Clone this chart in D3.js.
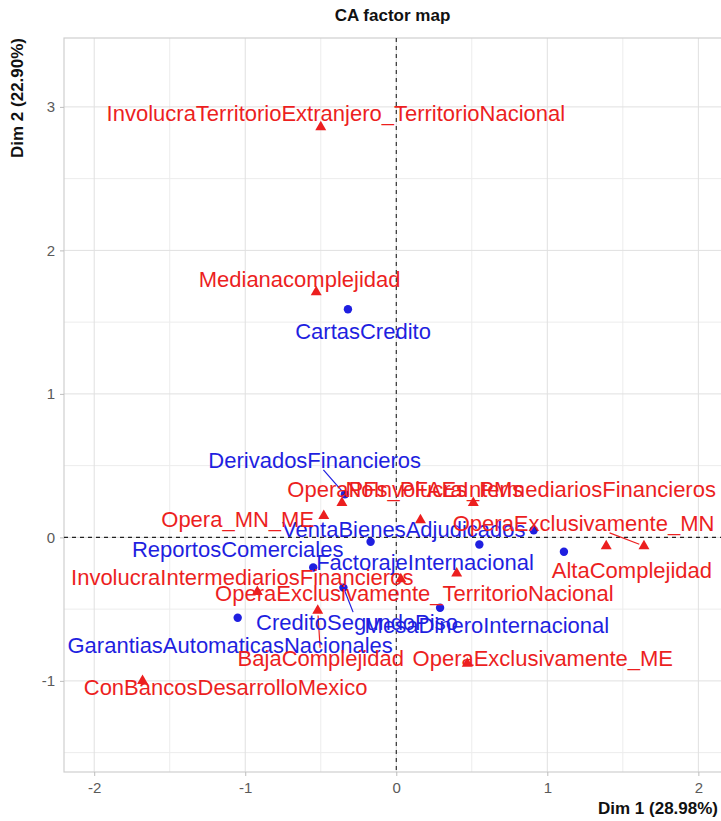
<!DOCTYPE html>
<html>
<head>
<meta charset="utf-8">
<script src="https://cdn.jsdelivr.net/npm/d3@7"></script>
<style>
  html, body { margin: 0; padding: 0; background: #fff; }
  svg { display: block; font-family: "Liberation Sans", Arial, sans-serif; }
</style>
</head>
<body>
<svg id="chart" width="721" height="821"></svg>
<script>
// Row categories (blue circles): Dim 1 / Dim 2 coordinates
const rowX = [-0.32, -0.34, -0.17, -0.55, 0.55, 0.91, 1.11, -0.35, 0.29, -1.05];
const rowY = [ 1.59,  0.30, -0.03, -0.21, -0.05, 0.05, -0.10, -0.35, -0.49, -0.56];

// Column categories (red triangles): Dim 1 / Dim 2 coordinates
const colX = [-0.50, -0.53, -0.36, 0.51, -0.48, 0.16, 1.39, 1.64, 0.40, 0.03, -0.92, -0.52, 0.47, -1.68];
const colY = [ 2.86,  1.71,  0.24, 0.24,  0.15, 0.12, -0.06, -0.06, -0.25, -0.29, -0.38, -0.51, -0.88, -1.00];

// Repelled row labels: text and label centre (data units);
// rowLabelLink = index of the point joined by a leader segment (-1: none)
const rowLabels = ["CartasCredito", "DerivadosFinancieros", "VentaBienesAdjudicados", "ReportosComerciales",
  "FactorajeInternacional", "CreditoSegundoPiso", "MesaDineroInternacional", "GarantiasAutomaticasNacionales"];
const rowLabelX = [-0.22, -0.54, 0.05, -1.05, 0.19, -0.26, 0.60, -1.10];
const rowLabelY = [ 1.44,  0.54, 0.06, -0.08, -0.17, -0.59, -0.61, -0.75];
const rowLabelLink = [-1, 1, -1, -1, -1, 7, -1, -1];

// Repelled column labels: text and label centre (data units);
// colLabelLink = index of the point joined by a leader segment (-1: none)
const colLabels = ["InvolucraTerritorioExtranjero_TerritorioNacional", "Medianacomplejidad", "OperaPFs_PFAEs_PMs",
  "NoInvolucraIntermediariosFinancieros", "Opera_MN_ME", "OperaExclusivamente_MN", "AltaComplejidad",
  "InvolucraIntermediariosFinancieros", "OperaExclusivamente_TerritorioNacional", "BajaComplejidad",
  "OperaExclusivamente_ME", "ConBancosDesarrolloMexico"];
const colLabelX = [-0.40, -0.64, 0.06, 0.89, -1.05, 1.24, 1.56, -1.02, 0.12, -0.50, 0.97, -1.13];
const colLabelY = [ 2.96,  1.80, 0.34, 0.34,  0.13, 0.10, -0.23, -0.28, -0.39, -0.84, -0.84, -1.04];
const colLabelLink = [-1, -1, -1, -1, -1, 7, -1, -1, -1, 11, -1, -1];

// Axis ticks and titles
const xTicks = [-2, -1, 0, 1, 2];
const yTicks = [-1, 0, 1, 2, 3];
const xMinor = [-1.5, -0.5, 0.5, 1.5];
const yMinor = [-1.5, -0.5, 0.5, 1.5, 2.5];
const chartTitle = "CA factor map";
const xTitle = "Dim 1 (28.98%)";
const yTitle = "Dim 2 (22.90%)";

const svg = d3.select("#chart");
const panel = { left: 64, right: 721, top: 38, bottom: 772 };

const x = d3.scaleLinear().domain([-2.2, 2.15]).range([panel.left, panel.right]);
const y = d3.scaleLinear().domain([-1.635, 3.48]).range([panel.bottom, panel.top]);

const RED = "#ec1f1f", BLUE = "#1f1fe0";

// Grid
const grid = svg.append("g");
grid.selectAll(".vminor").data(xMinor).join("line")
  .attr("x1", d => x(d)).attr("x2", d => x(d)).attr("y1", panel.top).attr("y2", panel.bottom)
  .attr("stroke", "#ececec").attr("stroke-width", 1);
grid.selectAll(".hminor").data(yMinor).join("line")
  .attr("y1", d => y(d)).attr("y2", d => y(d)).attr("x1", panel.left).attr("x2", panel.right)
  .attr("stroke", "#ececec").attr("stroke-width", 1);
grid.selectAll(".vmajor").data(xTicks).join("line")
  .attr("x1", d => x(d)).attr("x2", d => x(d)).attr("y1", panel.top).attr("y2", panel.bottom)
  .attr("stroke", "#e0e0e0").attr("stroke-width", 1);
grid.selectAll(".hmajor").data(yTicks).join("line")
  .attr("y1", d => y(d)).attr("y2", d => y(d)).attr("x1", panel.left).attr("x2", panel.right)
  .attr("stroke", "#e0e0e0").attr("stroke-width", 1);

// Panel border
svg.append("rect")
  .attr("x", panel.left).attr("y", panel.top)
  .attr("width", panel.right - panel.left + 5).attr("height", panel.bottom - panel.top)
  .attr("fill", "none").attr("stroke", "#cfcfcf").attr("stroke-width", 1.2);

// Axes (ticks + labels)
const xAxis = d3.axisBottom(x).tickValues(xTicks).tickSize(4).tickPadding(6);
const yAxis = d3.axisLeft(y).tickValues(yTicks).tickSize(4).tickPadding(5);
const gx = svg.append("g").attr("transform", `translate(0,${panel.bottom})`).call(xAxis);
const gy = svg.append("g").attr("transform", `translate(${panel.left},0)`).call(yAxis);
[gx, gy].forEach(g => {
  g.select(".domain").remove();
  g.selectAll(".tick line").attr("stroke", "#bdbdbd");
  g.selectAll(".tick text").attr("fill", "#5a5a5a").style("font-size", "15px")
    .style("font-family", "'Liberation Sans', Arial, sans-serif")
    .text(d => d < 0 ? "-" + Math.abs(d) : String(d));
});

// Reference lines at the origin
svg.append("line").attr("x1", x(0)).attr("x2", x(0)).attr("y1", panel.top).attr("y2", panel.bottom)
  .attr("stroke", "#222").attr("stroke-width", 1.1).attr("stroke-dasharray", "4,4");
svg.append("line").attr("y1", y(0)).attr("y2", y(0)).attr("x1", panel.left).attr("x2", panel.right)
  .attr("stroke", "#222").attr("stroke-width", 1.1).attr("stroke-dasharray", "4,4");

const LABEL_SIZE = 22;
const marks = svg.append("g");
const segs = svg.append("g");
const labelsG = svg.append("g");

// Labels, with an optional leader segment from the point towards the label centre,
// clipped at the label's box
function drawLabels(texts, lx, ly, links, px, py, color, pointRadius) {
  texts.forEach((t, i) => {
    const cx = x(lx[i]), cy = y(ly[i]);
    const txt = labelsG.append("text")
      .attr("x", cx).attr("y", cy)
      .attr("text-anchor", "middle").attr("dy", "0.36em")
      .attr("fill", color).style("font-size", LABEL_SIZE + "px")
      .text(t);
    const k = links[i];
    if (k < 0) return;
    const bb = txt.node().getBBox();
    const ptx = x(px[k]), pty = y(py[k]);
    const x0 = bb.x - 2, x1 = bb.x + bb.width + 2;
    const y0 = cy - LABEL_SIZE * 0.45, y1 = cy + LABEL_SIZE * 0.45;
    const dx = cx - ptx, dy = cy - pty;
    let tHit = 1;
    const cands = [];
    if (dx !== 0) cands.push((x0 - ptx) / dx, (x1 - ptx) / dx);
    if (dy !== 0) cands.push((y0 - pty) / dy, (y1 - pty) / dy);
    cands.forEach(tt => {
      if (tt > 0 && tt < tHit) {
        const hx = ptx + dx * tt, hy = pty + dy * tt;
        if (hx >= x0 - 0.01 && hx <= x1 + 0.01 && hy >= y0 - 0.01 && hy <= y1 + 0.01) tHit = tt;
      }
    });
    const ex = ptx + dx * tHit, ey = pty + dy * tHit;
    const len = Math.hypot(ex - ptx, ey - pty);
    const sx = ptx + (ex - ptx) * (pointRadius / len), sy = pty + (ey - pty) * (pointRadius / len);
    segs.append("line").attr("x1", sx).attr("y1", sy).attr("x2", ex).attr("y2", ey)
      .attr("stroke", color).attr("stroke-width", 1.2);
  });
}

// Points
marks.selectAll(".row").data(rowX.map((d, i) => [d, rowY[i]])).join("circle")
  .attr("cx", d => x(d[0])).attr("cy", d => y(d[1])).attr("r", 4.2).attr("fill", BLUE);
const tri = d3.symbol().type(d3.symbolTriangle).size(52);
marks.selectAll(".col").data(colX.map((d, i) => [d, colY[i]])).join("path")
  .attr("d", tri).attr("transform", d => `translate(${x(d[0])},${y(d[1])})`).attr("fill", RED);

drawLabels(rowLabels, rowLabelX, rowLabelY, rowLabelLink, rowX, rowY, BLUE, 4);
drawLabels(colLabels, colLabelX, colLabelY, colLabelLink, colX, colY, RED, 5);

// Titles
svg.append("text").attr("x", (panel.left + panel.right) / 2).attr("y", 21)
  .attr("text-anchor", "middle").style("font-size", "17px").style("font-weight", "bold")
  .attr("fill", "#111").text(chartTitle);
svg.append("text").attr("x", 718).attr("y", 814)
  .attr("text-anchor", "end").style("font-size", "17px").style("font-weight", "bold")
  .attr("fill", "#111").text(xTitle);
svg.append("text").attr("transform", `translate(23,${panel.top}) rotate(-90)`)
  .attr("text-anchor", "end").style("font-size", "17px").style("font-weight", "bold")
  .attr("fill", "#111").text(yTitle);
</script>
</body>
</html>
